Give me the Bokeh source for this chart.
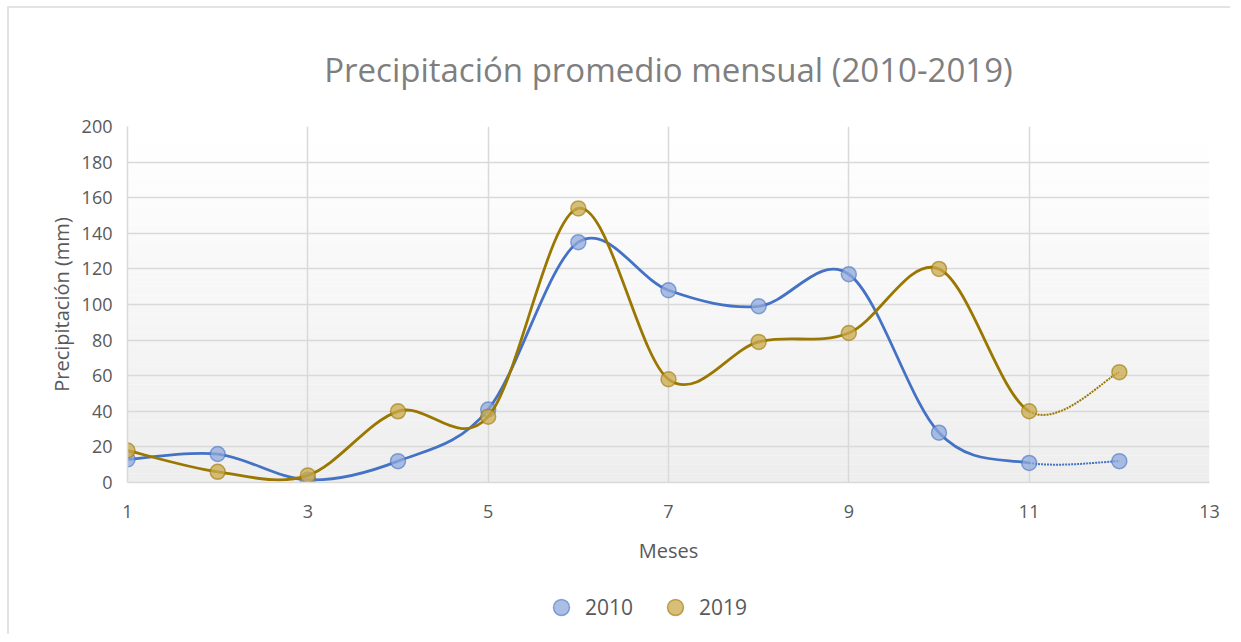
from bokeh.plotting import figure
from bokeh.models import Legend, LegendItem, Range1d, FixedTicker
from bokeh.layouts import column
from bokeh.embed import file_html
from bokeh.resources import INLINE

meses = [1, 2, 3, 4, 5, 6, 7, 8, 9, 10, 11, 12]
p2010 = [13, 16, 1.5, 12, 41, 135, 108, 99, 117, 28, 11, 12]
p2019 = [18, 6, 4, 40, 37, 154, 58, 79, 84, 120, 40, 62]
x_ticks = [1, 3, 5, 7, 9, 11, 13]
y_ticks = [0, 20, 40, 60, 80, 100, 120, 140, 160, 180, 200]
series_names = ["2010", "2019"]

titulo = "Precipitación promedio mensual (2010-2019)"
c2010, f2010 = "#4472C4", "#8FAADC"
c2019, f2019 = "#9A7700", "#C9A94C"
FONT = "Open Sans"

p = figure(frame_width=1082, frame_height=356, output_backend="svg", toolbar_location=None,
           x_range=Range1d(1, 13), y_range=Range1d(0, 200),
           min_border_left=118, min_border_right=21, min_border_top=118,
           min_border_bottom=0,
           outline_line_color=None, border_fill_color="white",
           background_fill_color="white")

# gradient background of the plot area
nb = 40
for i in range(nb):
    t = i / (nb - 1)
    g = int(round(255 - 17 * (1 - t)))
    p.quad(left=1, right=13, bottom=200 * i / nb, top=200 * (i + 1) / nb,
           fill_color=(g, g, g), line_color=None, level="image")


def bez(xs, ys):
    n = len(xs)
    out = []
    for i in range(n - 1):
        i0 = max(i - 1, 0)
        i3 = min(i + 2, n - 1)
        cx0 = xs[i] + (xs[i + 1] - xs[i0]) / 6
        cy0 = ys[i] + (ys[i + 1] - ys[i0]) / 6
        cx1 = xs[i + 1] - (xs[i3] - xs[i]) / 6
        cy1 = ys[i + 1] - (ys[i3] - ys[i]) / 6
        out.append((xs[i], ys[i], xs[i + 1], ys[i + 1], cx0, cy0, cx1, cy1))
    return out


def draw(ys, col, fill):
    segs = bez(meses, ys)
    main = segs[:-1]
    last = segs[-1:]
    keys = ["x0", "y0", "x1", "y1", "cx0", "cy0", "cx1", "cy1"]
    d = {k: [s[j] for s in main] for j, k in enumerate(keys)}
    p.bezier(line_color=col, line_width=2.8, **d)
    d2 = {k: [s[j] for s in last] for j, k in enumerate(keys)}
    p.bezier(line_color=col, line_width=2, line_dash="2 1", **d2)
    p.scatter(meses, ys, size=15, marker="circle", fill_color=fill,
              fill_alpha=0.75, line_color=col, line_alpha=0.6, line_width=1.5)


draw(p2010, c2010, f2010)
draw(p2019, c2019, f2019)

p.title.text = titulo
p.title.align = "center"
p.title.text_font = FONT
p.title.text_font_size = "33px"
p.title.text_font_style = "normal"
p.title.text_color = "#7F7F7F"
p.title.standoff = 70

for ax in (p.xaxis[0], p.yaxis[0]):
    ax.axis_line_color = "#D9D9D9"
    ax.axis_line_width = 1.5
    ax.major_tick_line_color = None
    ax.minor_tick_line_color = None
    ax.major_label_text_font = FONT
    ax.major_label_text_font_size = "18px"
    ax.major_label_text_color = "#595959"
    ax.axis_label_text_font = FONT
    ax.axis_label_text_font_size = "20px"
    ax.axis_label_text_font_style = "normal"
    ax.axis_label_text_color = "#595959"

p.xaxis.ticker = FixedTicker(ticks=x_ticks)
p.yaxis.ticker = FixedTicker(ticks=y_ticks)
p.xaxis.axis_label = "Meses"
p.yaxis.axis_label = "Precipitación (mm)"
p.xaxis.major_label_standoff = 16
p.xaxis.axis_label_standoff = 16
p.yaxis.major_label_standoff = 9
p.yaxis.axis_label_standoff = 4

p.xgrid.ticker = FixedTicker(ticks=x_ticks)
p.ygrid.ticker = FixedTicker(ticks=y_ticks)
for g in (p.xgrid[0], p.ygrid[0]):
    g.grid_line_color = "#D9D9D9"
    g.grid_line_width = 1.5

# legend strip below the chart (its data lie outside its own 0..1 ranges,
# so only the legend entries are visible)
lg = figure(frame_width=1221, frame_height=68, output_backend="svg", toolbar_location=None,
            x_range=Range1d(-1, 0), y_range=Range1d(-1, 0),
            min_border_left=0, min_border_right=0, min_border_top=0, min_border_bottom=0,
            outline_line_color=None, border_fill_color="white",
            background_fill_color="white")
lg.axis.visible = False
lg.grid.visible = False
lr1 = lg.scatter(x=meses, y=p2010, marker="circle", fill_color=f2010, fill_alpha=0.75,
                 line_color=c2010, line_alpha=0.6, line_width=1.5)
lr2 = lg.scatter(x=meses, y=p2019, marker="circle", fill_color=f2019, fill_alpha=0.75,
                 line_color=c2019, line_alpha=0.6, line_width=1.5)
legend = Legend(items=[LegendItem(label=series_names[0], renderers=[lr1]),
                       LegendItem(label=series_names[1], renderers=[lr2])],
                orientation="horizontal", location=(530, 7),
                label_text_font=FONT, label_text_font_size="21px",
                label_text_color="#595959", border_line_color=None,
                background_fill_alpha=0, glyph_width=44, glyph_height=40,
                label_standoff=2, spacing=20, margin=0, padding=0)
lg.add_layout(legend)

layout = column(p, lg, spacing=0)
layout.styles = {"border-left": "2px solid #E3E3E3", "border-top": "2px solid #E3E3E3",
                 "margin-left": "7px", "margin-top": "6px"}

open("out.html", "w").write(file_html(layout, INLINE))
